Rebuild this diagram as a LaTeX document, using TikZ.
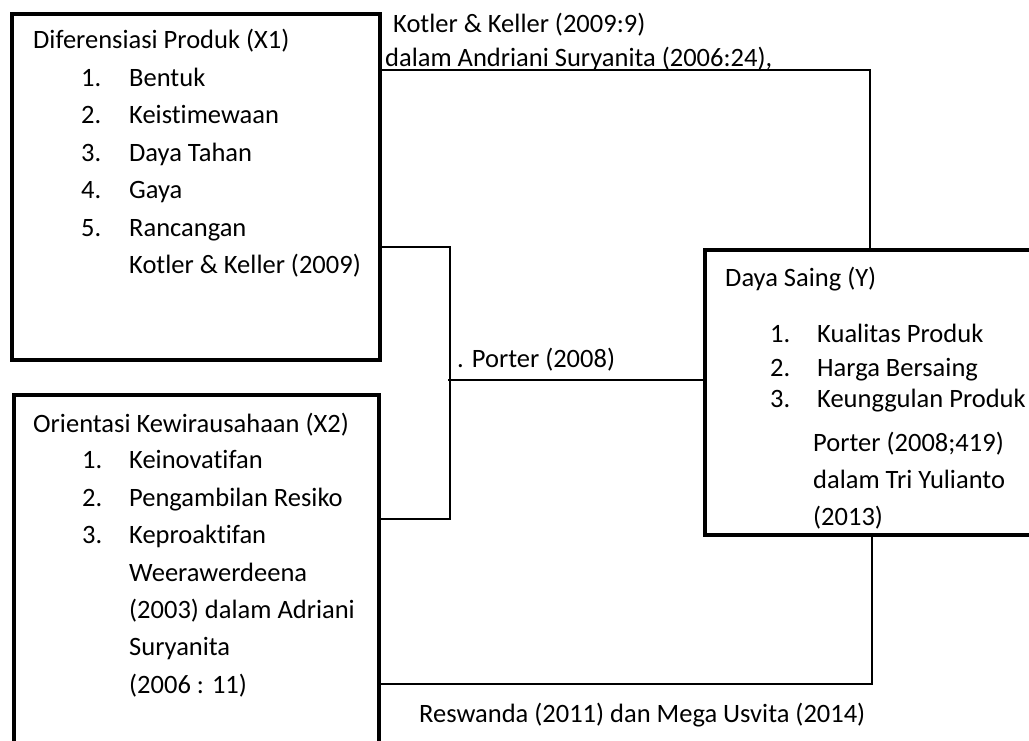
\documentclass[tikz,border=0pt]{standalone}
\usepackage{fontspec}
\setmainfont{Carlito}[RawFeature=-liga]
\begin{document}
\begin{tikzpicture}[x=1pt,y=1pt,
  font=\fontsize{26.5}{30}\selectfont,
  box/.style={draw, line width=4.2pt, inner sep=0pt, anchor=north west},
  conn/.style={line width=1.7pt},
  txt/.style={anchor=base west, inner sep=0pt}]
\useasboundingbox (0,0) rectangle (1029,-740);
\fill[white] (0,0) rectangle (1029,-740);
\clip (0,0) rectangle (1029,-740);

% boxes
\node[box, minimum width=368pt, minimum height=346pt] (box1) at (10,-12) {};
\node[box, minimum width=365pt, minimum height=420pt] (box2) at (12,-393) {};
\node[box, minimum width=400pt, minimum height=285pt] (boxY) at (703,-248) {};

% connectors
\coordinate (t1) at (870,-70);
\draw[conn] (box1.east |- t1) -- (t1) -- (t1 |- boxY.north);
\coordinate (m1) at (450,-247);
\coordinate (m2) at (450,-519);
\draw[conn] (box1.east |- m1) -- (m1) -- (m2) -- (box2.east |- m2);
\coordinate (p1) at (448,-380);
\draw[conn] (p1) -- (p1 -| boxY.west);
\coordinate (b1) at (872,-684);
\draw[conn] (box2.east |- b1) -- (b1) -- (b1 |- boxY.south);

% box 1 text
\node[txt] (x1t) at (33,-48) {Diferensiasi Produk (X1)};
\node[txt] (x1n1) at (81,-86) {1.};  \node[txt] (x1i1) at (129,-86) {Bentuk};
\node[txt] (x1n2) at (81,-123) {2.}; \node[txt] (x1i2) at (129,-123) {Keistimewaan};
\node[txt] (x1n3) at (81,-161) {3.}; \node[txt] (x1i3) at (129,-161) {Daya Tahan};
\node[txt] (x1n4) at (81,-198) {4.}; \node[txt] (x1i4) at (129,-198) {Gaya};
\node[txt] (x1n5) at (81,-236) {5.}; \node[txt] (x1i5) at (129,-236) {Rancangan};
\node[txt] (x1r) at (129,-273) {Kotler \& Keller (2009)};

% box 2 text
\node[txt] (x2t) at (33,-432) {Orientasi Kewirausahaan (X2)};
\node[txt] (x2n1) at (82,-468) {1.}; \node[txt] (x2i1) at (129,-468) {Keinovatifan};
\node[txt] (x2n2) at (82,-506) {2.}; \node[txt] (x2i2) at (129,-506) {Pengambilan Resiko};
\node[txt] (x2n3) at (82,-543) {3.}; \node[txt] (x2i3) at (129,-543) {Keproaktifan};
\node[txt] (x2r1) at (129,-581) {Weerawerdeena};
\node[txt] (x2r2) at (129,-618) {(2003) dalam Adriani};
\node[txt] (x2r3) at (129,-655) {Suryanita};
\node[txt] (x2r4) at (129,-693) {(2006 : 11)};

% box Y text
\node[txt] (yt) at (725,-286) {Daya Saing (Y)};
\node[txt] (yn1) at (770,-342) {1.}; \node[txt] (yi1) at (817,-342) {Kualitas Produk};
\node[txt] (yn2) at (770,-376) {2.}; \node[txt] (yi2) at (817,-376) {Harga Bersaing};
\node[txt] (yn3) at (770,-407) {3.}; \node[txt] (yi3) at (817,-407) {Keunggulan Produk};
\node[txt] (yr1) at (813,-451) {Porter (2008;419)};
\node[txt] (yr2) at (813,-488) {dalam Tri Yulianto};
\node[txt] (yr3) at (813,-525) {(2013)};

% connector labels
\node[txt] (lt1) at (393,-32) {Kotler \& Keller (2009:9)};
\node[txt] (lt2) at (385,-66) {dalam Andriani Suryanita (2006:24),};
\node[txt] (lp) at (457,-367) {. Porter (2008)};
\node[txt] (lb) at (419,-722) {Reswanda (2011) dan Mega Usvita (2014)};
\end{tikzpicture}
\end{document}
